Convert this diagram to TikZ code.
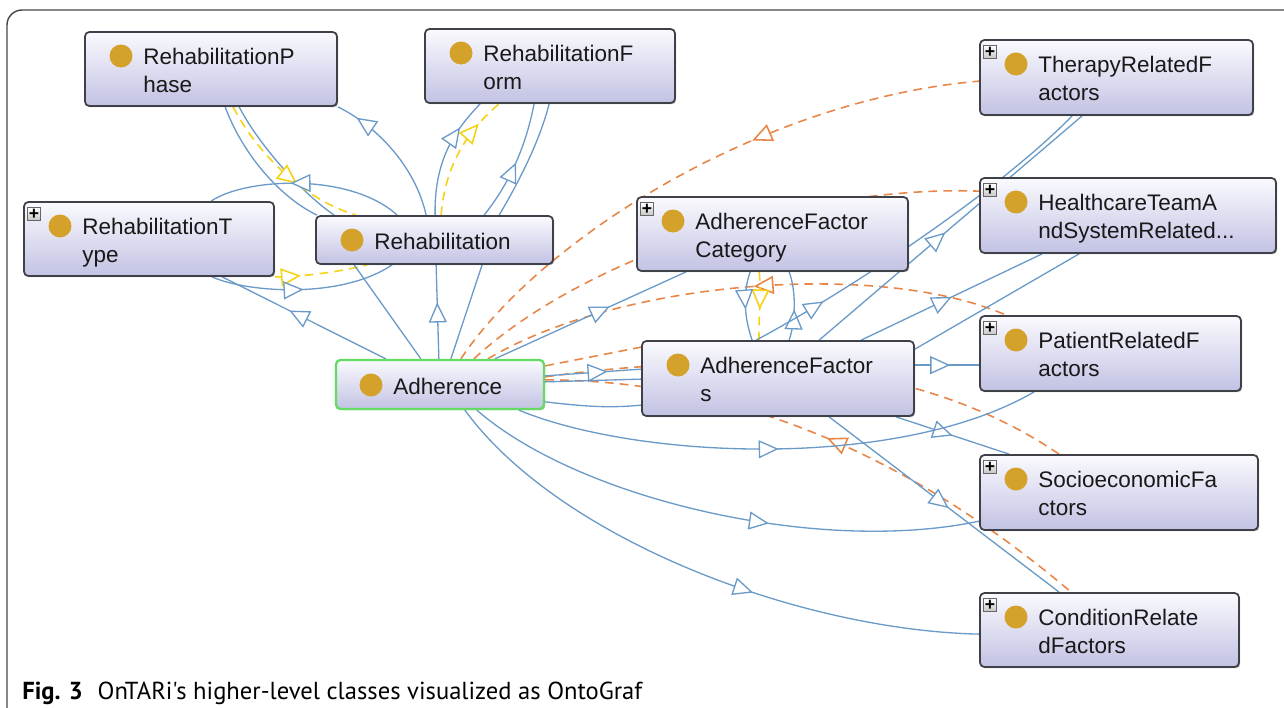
\documentclass[tikz,border=0pt]{standalone}
\usepackage{fontspec}
\setmainfont{Liberation Sans}
\newfontfamily\capfont{PT Sans}
\usetikzlibrary{arrows.meta,decorations.markings,calc,backgrounds,shadows}
\definecolor{eblue}{RGB}{106,154,200}
\definecolor{eorange}{RGB}{232,134,72}
\definecolor{eyellow}{RGB}{246,210,20}
\definecolor{dotgold}{RGB}{212,161,43}
\definecolor{boxedge}{RGB}{64,64,72}
\definecolor{boxbot}{RGB}{194,194,228}
\definecolor{boxtop}{RGB}{250,250,254}
\definecolor{selgreen}{RGB}{100,220,100}
\definecolor{txt}{RGB}{25,25,25}
\definecolor{framegrey}{RGB}{70,70,70}
\tikzset{
  oTri/.tip={Triangle[fill=white,length=0.4cm,width=0.36cm]},
  cls/.style={draw=boxedge,line width=1pt,rounded corners=2.5pt,top color=boxtop,bottom color=boxbot,inner sep=0pt,
    drop shadow={shadow xshift=0.7pt,shadow yshift=-0.7pt,opacity=0.3,fill=black}},
  lbl/.style={anchor=base west,inner sep=0pt,text=txt,font=\fontsize{12.8}{15}\selectfont},
  gdot/.style={circle,fill=dotgold,minimum size=0.46cm,inner sep=0pt},
  plusb/.style={draw=gray!80!black,line width=0.4pt,top color=white,bottom color=gray!45,minimum size=0.25cm,inner sep=0pt,font=\fontsize{10}{10}\selectfont\bfseries},
  be/.style={draw=eblue,line width=0.75pt},
  oe/.style={draw=eorange,line width=0.9pt,dash pattern=on 5pt off 3.5pt},
  ye/.style={draw=eyellow,line width=0.9pt,dash pattern=on 5pt off 3.5pt},
  marr/.style={postaction={decorate,decoration={markings,mark=at position #1 with {\arrow{oTri}}}}},
  rarr/.style={postaction={decorate,decoration={markings,mark=at position #1 with {\arrowreversed{oTri}}}}},
}
% name, x1, y1, x2, y2, line1, line2, plus
\newcommand\ogbox[8]{%
  \node[cls,minimum width={(#4-#2)*0.02cm},minimum height={(#5-#3)*0.02cm}] (#1) at ({(#2+#4)/2},{(#3+#5)/2}) {};
  \node[gdot] (#1-d) at (#2+36,#3+24) {};
  \node[lbl] (#1-a) at (#2+58,#3+32) {#6};
  \node[lbl] (#1-b) at (#2+58,#3+60) {#7};
  \ifnum#8=1 \node[plusb] (#1-p) at (#2+10,#3+12) {+};\fi}
\begin{document}
\begin{tikzpicture}[x=0.02cm,y=-0.02cm]
\useasboundingbox (0,0) rectangle (1284,707);
\draw[framegrey,line width=0.8pt,rounded corners=0.3cm] (7,720) -- (7,10) -- (1300,10);

% class boxes
\ogbox{rp}{85}{32}{337}{106}{RehabilitationP}{hase}{0}
\ogbox{rf}{425}{29}{675}{103}{RehabilitationF}{orm}{0}
\ogbox{rt}{24}{202}{274}{276}{RehabilitationT}{ype}{1}
\ogbox{th}{980}{40}{1253}{115}{TherapyRelatedF}{actors}{1}
\ogbox{hc}{980}{178}{1276}{253}{HealthcareTeamA}{ndSystemRelated...}{1}
\ogbox{afc}{637}{197}{908}{271}{AdherenceFactor}{Category}{1}
\ogbox{af}{642}{341}{914}{416}{AdherenceFactor}{s}{0}
\ogbox{pr}{980}{316}{1241}{391}{PatientRelatedF}{actors}{1}
\ogbox{se}{980}{455}{1258}{530}{SocioeconomicFa}{ctors}{1}
\ogbox{cr}{980}{593}{1239}{667}{ConditionRelate}{dFactors}{1}
\node[cls,minimum width={237*0.02cm},minimum height={48*0.02cm}] (rh) at (434.5,240) {};
\node[gdot] (rh-d) at (352,240) {};
\node[lbl] (rh-a) at (374,249) {Rehabilitation};
\node[cls,draw=selgreen,line width=1.3pt,minimum width={208*0.02cm},minimum height={49*0.02cm}] (adh) at (440,384.5) {};
\node[gdot] (adh-d) at (371,385) {};
\node[lbl] (adh-a) at (393,394) {Adherence};

% caption
\node[anchor=base west,inner sep=0pt,text=black,font=\capfont\fontsize{14}{16}\selectfont] (cap) at (22,699)
  {\textbf{Fig. 3}\hspace{0.6em}OnTARi's higher-level classes visualized as OntoGraf};

\begin{scope}[on background layer]
% --- Rehabilitation cluster ---
\draw[be] ($(rp.south west)+(141,0)$) .. controls (245,160) and (285,200) .. ($(rh.north west)+(2,0)$);
\draw[be] ($(rp.south west)+(155,0)$) .. controls (262,150) and (305,195) .. ($(rh.north west)+(19,0)$);
\draw[ye,marr=0.6] ($(rp.south west)+(149,0)$) .. controls (258,155) and (305,200) .. ($(rh.north west)+(41,0)$);
\draw[be,rarr=0.42] ($(rt.north west)+(188,0)$) .. controls (245,178) and (350,172) .. ($(rh.north west)+(82,0)$);
\draw[be,marr=0.85] ($(rh.north west)+(111,0)$) .. controls (415,165) and (375,125) .. (rp.south east);
\draw[be,marr=0.75] ($(rh.north west)+(120,0)$) .. controls (434,160) and (455,130) .. ($(rf.south west)+(56,0)$);
\draw[ye,marr=0.78] ($(rh.north west)+(126,0)$) .. controls (445,165) and (468,130) .. ($(rf.south west)+(75,0)$);
\draw[be,marr=0.5] ($(rh.north west)+(169,0)$) .. controls (508,185) and (525,150) .. ($(rf.south west)+(110,0)$);
\draw[be] ($(rh.north west)+(184,0)$) .. controls (520,180) and (540,140) .. ($(rf.south west)+(125,0)$);
\draw[ye,marr=0.28] (rt.south east) .. controls (300,277) and (340,272) .. ($(rh.south west)+(52,0)$);
\draw[be,marr=0.5] ($(rt.south west)+(189,0)$) .. controls (245,292) and (340,300) .. ($(rh.south west)+(77,0)$);
\draw[be,marr=0.59] ($(adh.north west)+(51,0)$) -- ($(rt.south west)+(199,0)$);
\draw[be] ($(adh.north west)+(86,0)$) -- ($(rh.south west)+(39,0)$);
\draw[be,marr=0.6] ($(adh.north west)+(104,0)$) -- ($(rh.south west)+(121,0)$);
\draw[be] ($(adh.north west)+(116,0)$) -- ($(rh.south west)+(167,0)$);
% --- orange from Adherence ---
\draw[oe,rarr=0.61] ($(adh.north west)+(126,0)$) .. controls (540,240) and (760,100) .. ($(th.north west)+(0,42)$);
\draw[oe] ($(adh.north west)+(139,0)$) .. controls (580,260) and (800,185) .. ($(hc.north west)+(0,14)$);
\draw[oe,rarr=0.52] ($(adh.north west)+(153,0)$) .. controls (620,280) and (880,260) .. ($(pr.north west)+(27,0)$);
\draw[oe] ($(adh.north east)+(0,7)$) -- ($(af.north west)+(0,7)$);
\draw[oe] ($(adh.north east)+(0,18)$) .. controls (740,350) and (920,360) .. ($(se.north west)+(80,0)$);
\draw[oe,rarr=0.5] ($(adh.north east)+(0,21)$) .. controls (700,380) and (880,430) .. ($(cr.north west)+(92,0)$);
% --- AdherenceFactorCategory / AdherenceFactors ---
\draw[ye,marr=0.55] ($(afc.south west)+(123,0)$) .. controls (762,295) and (758,320) .. ($(af.north west)+(118,0)$);
\draw[be,marr=0.55] ($(afc.south west)+(114,0)$) .. controls (742,295) and (745,320) .. ($(af.north west)+(111,0)$);
\draw[be,marr=0.45] ($(af.north west)+(148,0)$) .. controls (796,320) and (796,290) .. ($(afc.south west)+(153,0)$);
\draw[be,marr=0.6] ($(adh.north west)+(160,0)$) -- ($(afc.south west)+(50,0)$);
\draw[be,marr=0.2] ($(af.north west)+(115,0)$) .. controls (850,290) and (1000,190) .. ($(th.south west)+(93,0)$);
\draw[be,marr=0.48] ($(af.north west)+(178,0)$) -- ($(th.south west)+(103,0)$);
\draw[be,marr=0.5] ($(af.north west)+(220,0)$) -- ($(hc.south west)+(63,0)$);
\draw[be] ($(af.north east)+(0,9)$) -- ($(hc.south west)+(100,0)$);
\draw[be,marr=0.55] ($(af.north east)+(0,25)$) -- ($(pr.north west)+(0,50)$);
\draw[be,marr=0.5] ($(af.south west)+(255,0)$) -- ($(se.north west)+(30,0)$);
\draw[be,marr=0.52] ($(af.south west)+(188,0)$) -- ($(cr.north west)+(80,0)$);
% --- blue from Adherence ---
\draw[be,marr=0.65] ($(adh.north east)+(0,17)$) -- ($(af.north west)+(0,29)$);
\draw[be] ($(adh.north east)+(0,23)$) -- ($(af.north west)+(0,39)$);
\draw[be] ($(adh.north east)+(0,43)$) .. controls (590,407) and (610,408) .. ($(af.north west)+(0,65)$);
\draw[be,marr=0.5] ($(adh.south west)+(184,0)$) .. controls (640,460) and (900,470) .. ($(pr.south west)+(55,0)$);
\draw[be,marr=0.6] ($(adh.south west)+(142,0)$) .. controls (580,500) and (820,555) .. ($(se.north west)+(0,67)$);
\draw[be,marr=0.6] ($(adh.south west)+(130,0)$) .. controls (560,540) and (800,630) .. ($(cr.north west)+(0,42)$);
\end{scope}
\end{tikzpicture}
\end{document}
